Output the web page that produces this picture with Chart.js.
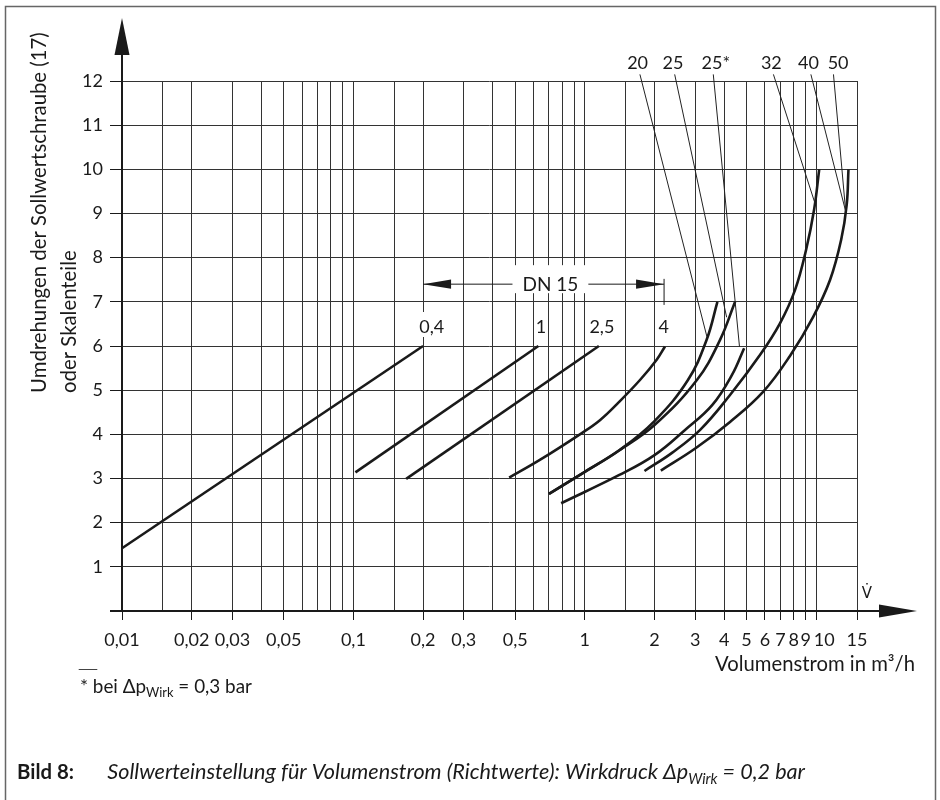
<!DOCTYPE html>
<html>
<head>
<meta charset="utf-8">
<script src="https://cdn.jsdelivr.net/npm/chart.js@4.4.1/dist/chart.umd.min.js"></script>
<style>
html,body{margin:0;padding:0;background:#fff;}
canvas{display:block;}
</style>
</head>
<body>
<canvas id="c" width="940" height="800" style="width:940px;height:800px"></canvas>
<script>
// ---------------- data ----------------
const xGridValues = [0.01,0.015,0.02,0.03,0.04,0.05,0.06,0.07,0.08,0.09,
                     0.1,0.15,0.2,0.3,0.4,0.5,0.6,0.7,0.8,0.9,
                     1,1.5,2,3,4,5,6,7,8,9,10,15];
const xTickLabels = ['0,01','','0,02','0,03','','0,05','','','','',
                     '0,1','','0,2','0,3','','0,5','','','','',
                     '1','','2','3','4','5','6','7','8','9','10','15'];
const yTickValues = [0,1,2,3,4,5,6,7,8,9,10,11,12];
const yTickLabels = ['','1','2','3','4','5','6','7','8','9','10','11','12'];

// DN 15 characteristic lines (flow m3/h, rotations)
const dn15_04_x = [0.01, 0.2];
const dn15_04_y = [1.42, 6.0];
const dn15_1_x  = [0.102, 0.63];
const dn15_1_y  = [3.14, 6.0];
const dn15_25_x = [0.169, 1.15];
const dn15_25_y = [2.99, 6.0];
const dn15_4_x  = [0.471, 0.639, 0.952, 1.162, 1.41, 1.731, 2.044, 2.22];
const dn15_4_y  = [3.02, 3.42, 4.0, 4.32, 4.74, 5.23, 5.69, 5.99];

// larger nominal sizes
const dn20_x    = [0.70, 1.0, 1.41, 2.0, 2.79, 3.36, 3.74];
const dn20_y    = [2.65, 3.15, 3.64, 4.30, 5.23, 6.14, 7.0];
const dn25_x    = [0.70, 1.0, 1.41, 2.0, 3.05, 3.84, 4.46];
const dn25_y    = [2.65, 3.15, 3.64, 4.21, 5.23, 6.14, 7.0];
const dn25s_x   = [0.79, 1.41, 2.0, 2.71, 3.55, 4.33, 4.88];
const dn25s_y   = [2.44, 3.08, 3.53, 4.10, 4.66, 5.35, 5.95];
const dn32_x    = [1.81, 2.38, 3.15, 4.24, 5.72, 6.98, 8.10, 9.04, 9.79, 10.3];
const dn32_y    = [3.17, 3.58, 4.10, 4.89, 5.80, 6.52, 7.27, 8.18, 9.09, 10.0];
const dn4050_x  = [2.13, 3.02, 4.24, 5.89, 7.71, 9.70, 11.48, 12.82, 13.54, 13.78];
const dn4050_y  = [3.18, 3.69, 4.28, 4.96, 5.78, 6.66, 7.50, 8.41, 9.20, 10.0];

// curve labels above the grid and their leader lines
const topLabels      = ['20','25','25*','32','40','50'];
const topLabelX      = [1.69, 2.405, 3.68, 6.395, 9.25, 12.43];
const topLabelY      = 12.42;
const leaderStartX   = [1.73, 2.445, 3.59, 6.53, 9.48, 11.87];
const leaderStartY   = 12.15;
const leaderEndX     = [3.37, 4.1, 4.66, 9.89, 13.4, 13.4];
const leaderEndY     = [6.21, 6.65, 5.98, 9.22, 9.05, 9.05];

// DN 15 labels and range bracket
const dn15Labels     = ['0,4','1','2,5','4'];
const dn15LabelX     = [0.218, 0.646, 1.185, 2.19];
const dn15LabelY     = 6.43;
const dn15RangeX     = [0.2, 2.2];
const dn15RangeY     = 7.4;
const dn15MarkY      = [7.52, 6.93];
const dn15TextX      = 0.71;

const yTitle  = ['Umdrehungen der Sollwertschraube (17)', 'oder Skalenteile'];
const xTitle  = 'Volumenstrom in m³/h';

// ---------------- chart ----------------
const FONT = 'Lato, "DejaVu Sans", sans-serif';
const INK = '#1a1a1a';
const GRID = '#333';

function pts(xa, ya) { return xa.map((x, i) => ({ x: x, y: ya[i] })); }

const datasets = [];
topLabels.forEach((t, i) => {
  datasets.push({
    data: [{x: leaderStartX[i], y: leaderStartY}, {x: leaderEndX[i], y: leaderEndY[i]}],
    borderColor: '#222', borderWidth: 1, pointRadius: 0, tension: 0, clip: false
  });
});
[[dn15_04_x, dn15_04_y, false], [dn15_1_x, dn15_1_y, false], [dn15_25_x, dn15_25_y, false],
 [dn15_4_x, dn15_4_y, true], [dn20_x, dn20_y, true], [dn25_x, dn25_y, true],
 [dn25s_x, dn25s_y, true], [dn32_x, dn32_y, true], [dn4050_x, dn4050_y, true]
].forEach(([xa, ya, curved]) => {
  datasets.push({ data: pts(xa, ya), borderColor: INK, borderWidth: 2.6, pointRadius: 0,
                  fill: false, clip: false, borderCapStyle: 'butt',
                  tension: curved ? 0.4 : 0 });
});

function fitSize(ctx, text, style, target) {
  ctx.font = `${style} 100px ${FONT}`;
  return 100 * target / ctx.measureText(text).width;
}
function richWidth(ctx, parts, style, size) {
  let w = 0;
  parts.forEach(([t, sub]) => {
    ctx.font = `${style} ${sub ? size * 0.68 : size}px ${FONT}`;
    w += ctx.measureText(t).width;
  });
  return w;
}
function drawRich(ctx, parts, style, x, y, target) {
  const size = 100 * target / richWidth(ctx, parts, style, 100);
  ctx.textAlign = 'left'; ctx.textBaseline = 'alphabetic';
  parts.forEach(([t, sub]) => {
    const s = sub ? size * 0.68 : size;
    ctx.font = `${style} ${s}px ${FONT}`;
    ctx.fillText(t, x, sub ? y + size * 0.22 : y);
    x += ctx.measureText(t).width;
  });
}

const deco = {
  id: 'deco',
  afterDraw(chart) {
    const { ctx, chartArea: ca } = chart;
    const xs = chart.scales.x, ys = chart.scales.y;
    const X = v => xs.getPixelForValue(v), Y = v => ys.getPixelForValue(v);
    ctx.save();
    ctx.fillStyle = INK; ctx.strokeStyle = INK;

    // axes with arrows
    const ax = Math.round(X(xGridValues[0])), ay = Math.round(Y(0));
    ctx.lineWidth = 2;
    ctx.beginPath(); ctx.moveTo(ax, ay); ctx.lineTo(ax, ca.top - 28); ctx.stroke();
    ctx.beginPath(); ctx.moveTo(ax, ca.top - 63); ctx.lineTo(ax - 7.5, ca.top - 26);
    ctx.lineTo(ax + 7.5, ca.top - 26); ctx.closePath(); ctx.fill();
    ctx.beginPath(); ctx.moveTo(ca.left - 12, ay); ctx.lineTo(ca.right + 24, ay); ctx.stroke();
    ctx.beginPath(); ctx.moveTo(ca.right + 60, ay); ctx.lineTo(ca.right + 22, ay - 6.5);
    ctx.lineTo(ca.right + 22, ay + 6.5); ctx.closePath(); ctx.fill();

    // x tick labels
    ctx.font = `18px ${FONT}`; ctx.textAlign = 'center'; ctx.textBaseline = 'alphabetic';
    xGridValues.forEach((v, i) => {
      const t = xTickLabels[i];
      if (!t) return;
      const shift = (t === '10') ? 8 : 0;
      ctx.fillText(t, X(v) + shift, ay + 35);
    });

    // V-dot symbol and x title
    ctx.font = '15px "DejaVu Sans"'; ctx.textAlign = 'center';
    ctx.fillText('V\u0307', ca.right + 10, ay - 13);
    const xs1 = fitSize(ctx, xTitle, '', 200);
    ctx.font = `${xs1}px ${FONT}`; ctx.textAlign = 'right';
    ctx.fillText(xTitle, ca.right + 58, ay + 60);

    // y title (rotated)
    const ys1 = fitSize(ctx, yTitle[0], '', 361);
    ctx.font = `${ys1}px ${FONT}`; ctx.textAlign = 'left';
    [45.5, 75.5].forEach((bx, i) => {
      ctx.save(); ctx.translate(bx, 393); ctx.rotate(-Math.PI / 2);
      ctx.fillText(yTitle[i], 0, 0); ctx.restore();
    });

    // DN 15 range bracket
    const by = Y(dn15RangeY), bx1 = X(dn15RangeX[0]), bx2 = X(dn15RangeX[1]);
    ctx.lineWidth = 1;
    ctx.beginPath(); ctx.moveTo(bx1, by); ctx.lineTo(bx2, by); ctx.stroke();
    ctx.beginPath(); ctx.moveTo(bx1, by); ctx.lineTo(bx1 + 28, by - 4.7); ctx.lineTo(bx1 + 28, by + 4.7); ctx.closePath(); ctx.fill();
    ctx.beginPath(); ctx.moveTo(bx2, by); ctx.lineTo(bx2 - 28, by - 4.7); ctx.lineTo(bx2 - 28, by + 4.7); ctx.closePath(); ctx.fill();
    ctx.beginPath(); ctx.moveTo(bx2, Y(dn15MarkY[0])); ctx.lineTo(bx2, Y(dn15MarkY[1])); ctx.stroke();
    ctx.font = `19px ${FONT}`; ctx.textAlign = 'center';
    const dnW = ctx.measureText('DN 15').width, dnX = X(dn15TextX);
    ctx.fillStyle = '#fff'; ctx.fillRect(dnX - dnW / 2 - 10, by - 19, dnW + 20, 28);
    ctx.fillStyle = INK; ctx.fillText('DN 15', dnX, by + 7);

    // DN 15 labels with white backing
    ctx.font = `18px ${FONT}`;
    const lb = Y(dn15LabelY) + 6;
    dn15Labels.forEach((t, i) => {
      const cx = X(dn15LabelX[i]), w = ctx.measureText(t).width;
      ctx.fillStyle = '#fff'; ctx.fillRect(cx - w / 2 - 1, lb - 21, w + 2, 25);
      ctx.fillStyle = INK; ctx.fillText(t, cx, lb);
    });

    // top labels
    const tb = Y(topLabelY) + 7;
    topLabels.forEach((t, i) => ctx.fillText(t, X(topLabelX[i]), tb));

    // footnote
    ctx.strokeStyle = '#444'; ctx.lineWidth = 1;
    ctx.beginPath(); ctx.moveTo(78.7, 669.5); ctx.lineTo(97.3, 669.5); ctx.stroke();
    drawRich(ctx, [['* bei Δp', 0], ['Wirk', 1], [' = 0,3 bar', 0]], '', 80, 692.7, 172);

    // caption
    const bs = fitSize(ctx, 'Bild 8:', 'bold', 57);
    ctx.font = `bold ${bs}px ${FONT}`; ctx.textAlign = 'left';
    ctx.fillText('Bild 8:', 17, 779);
    drawRich(ctx, [['Sollwerteinstellung für Volumenstrom (Richtwerte): Wirkdruck Δp', 0], ['Wirk', 1], [' = 0,2 bar', 0]],
             'italic', 107.3, 779, 698);

    // frame
    ctx.strokeStyle = '#666'; ctx.lineWidth = 1.5;
    ctx.strokeRect(5.5, 6.5, 930, 820);
    ctx.restore();
  }
};

Chart.defaults.font.family = FONT;
new Chart(document.getElementById('c'), {
  type: 'line',
  data: { datasets: datasets },
  options: {
    responsive: false,
    animation: false,
    events: [],
    layout: { padding: { left: 0, right: 83, top: 81, bottom: 0 } },
    plugins: { legend: { display: false }, tooltip: { enabled: false } },
    scales: {
      x: {
        type: 'logarithmic', min: 0.01, max: 15,
        afterBuildTicks: s => { s.ticks = xGridValues.map(v => ({ value: v })); },
        afterFit: s => { s.height = 189; },
        border: { display: false },
        grid: {
          color: GRID, lineWidth: 1, drawTicks: true, tickLength: 9,
          tickColor: c => (xTickLabels[c.index] ? INK : 'rgba(0,0,0,0)')
        },
        ticks: { display: false, autoSkip: false }
      },
      y: {
        type: 'linear', min: 0, max: 12,
        afterBuildTicks: s => { s.ticks = yTickValues.map(v => ({ value: v })); },
        afterFit: s => { s.width = 122; },
        border: { display: false },
        grid: { color: GRID, lineWidth: 1, drawTicks: true, tickLength: 12, tickColor: INK },
        ticks: {
          autoSkip: false, padding: 7, color: INK,
          font: { size: 18, family: FONT },
          callback: (v, i) => yTickLabels[i]
        }
      }
    }
  },
  plugins: [deco]
});
</script>
</body>
</html>
